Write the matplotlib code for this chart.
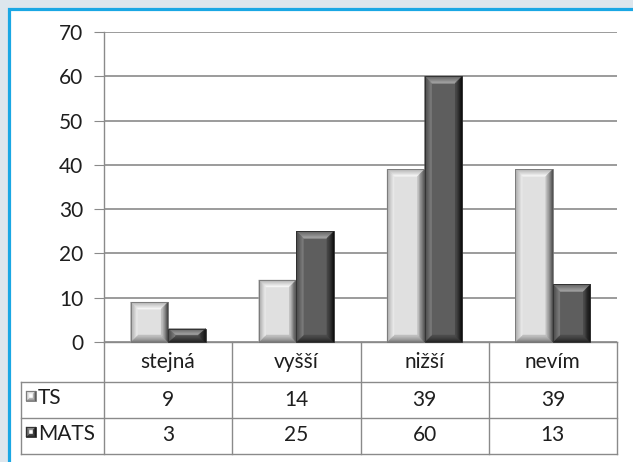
import matplotlib
matplotlib.use("Agg")
import matplotlib.pyplot as plt
import matplotlib.transforms as mtransforms
from matplotlib.patches import Rectangle, Polygon
from matplotlib.lines import Line2D
from matplotlib.colors import to_rgb

# --- data ---
categories = ["stejná", "vyšší", "nižší", "nevím"]
series_names = ["TS", "MATS"]
ts_values = [9, 14, 39, 39]
mats_values = [3, 25, 60, 13]
y_ticks = [0, 10, 20, 30, 40, 50, 60, 70]

W, H = 633, 462
FONT = "Lato"
FS = 15
TXT = "#1e1e1e"
LINE = "#8a8a8a"

# bevel palettes: (outer, inner) colour for each side, plus face
STYLE = {
    "TS": dict(face="#e0e0e0", top=("#a8a8a8", "#fbfbfb"), left=("#a0a0a0", "#efefef"),
               right=("#3c3c3c", "#c8c8c8"), bottom=("#767676", "#c4c4c4"), edge="#747474"),
    "MATS": dict(face="#5e5e5e", top=("#606060", "#a8a8a8"), left=("#444444", "#808080"),
                 right=("#080808", "#4a4a4a"), bottom=("#222222", "#505050"), edge="#2a2a2a"),
}


def fx(x):
    return x / W


def fy(y):
    return 1 - y / H


def mix(c1, c2, t):
    a, b = to_rgb(c1), to_rgb(c2)
    return tuple(a[i] + (b[i] - a[i]) * t for i in range(3))


def bevel(ax, x0, x1, y0, y1, bx, by, st, steps=6, transform=None):
    tr = transform if transform is not None else ax.transData
    by = min(by, (y1 - y0) * 0.45)
    for k in range(steps):
        t0, t1 = k / steps, (k + 1) / steps
        ax0, ax1, ay0, ay1 = x0 + bx * t0, x1 - bx * t0, y0 + by * t0, y1 - by * t0
        bx0, bx1, by0, by1 = x0 + bx * t1, x1 - bx * t1, y0 + by * t1, y1 - by * t1
        tc = (k + 0.5) / steps
        parts = [
            ([(ax0, ay1), (ax1, ay1), (bx1, by1), (bx0, by1)], mix(*st["top"], tc)),
            ([(ax0, ay0), (ax1, ay0), (bx1, by0), (bx0, by0)], mix(*st["bottom"], tc)),
            ([(ax0, ay0), (ax0, ay1), (bx0, by1), (bx0, by0)], mix(*st["left"], tc)),
            ([(ax1, ay0), (ax1, ay1), (bx1, by1), (bx1, by0)], mix(*st["right"], tc)),
        ]
        for pts, c in parts:
            ax.add_patch(Polygon(pts, closed=True, facecolor=c, edgecolor=c, lw=0.3,
                                 transform=tr, zorder=4, clip_on=False))
    ax.add_patch(Rectangle((x0, y0), x1 - x0, y1 - y0, facecolor="none",
                           edgecolor=st["edge"], lw=0.6, transform=tr, zorder=5,
                           clip_on=False))


fig = plt.figure(figsize=(W / 100, H / 100), dpi=100)
fig.patch.set_facecolor("#dde6ed")

# white panel with blue frame
fig.add_artist(Rectangle((fx(8.5), -0.2), 1.5, fy(8.5) + 0.2, transform=fig.transFigure,
                         facecolor="white", edgecolor="#1aa7e4", lw=2.3, zorder=0))

left, right, top, bottom = 104, 617, 32, 342
ax = fig.add_axes([fx(left), fy(bottom), (right - left) / W, (bottom - top) / H])
ax.set_facecolor("none")
ax.set_xlim(-0.5, len(categories) - 0.5)
ax.set_ylim(0, 70)
ax.set_yticks(y_ticks)
ax.set_xticks([])
for s in ["top", "right"]:
    ax.spines[s].set_visible(False)
for s in ["left", "bottom"]:
    ax.spines[s].set_color(LINE)
    ax.spines[s].set_linewidth(1.0)
ax.yaxis.grid(True, color=LINE, lw=1.2)
ax.set_axisbelow(True)
ax.tick_params(axis="y", length=7, color=LINE, pad=8, labelsize=FS)
for lab in ax.get_yticklabels():
    lab.set_fontfamily(FONT)
    lab.set_color(TXT)

bw = 0.293
xs = list(range(len(categories)))
bars_ts = ax.bar([x - bw / 2 for x in xs], ts_values, bw, color=STYLE["TS"]["face"], zorder=3)
bars_mats = ax.bar([x + bw / 2 for x in xs], mats_values, bw, color=STYLE["MATS"]["face"], zorder=3)

px_x = len(categories) / (right - left)
px_y = 70 / (bottom - top)
for bars, name in [(bars_ts, "TS"), (bars_mats, "MATS")]:
    for p in bars:
        x0 = p.get_x()
        x1 = x0 + p.get_width()
        h = p.get_height()
        bevel(ax, x0, x1, 0, h, 7 * px_x, 7 * px_y, STYLE[name])

# --- data table ---
blend = mtransforms.blended_transform_factory(ax.transData, fig.transFigure)
for yl in [382, 418, 454]:
    fig.add_artist(Line2D([fx(21), fx(right)], [fy(yl), fy(yl)], color=LINE, lw=1.0,
                          transform=fig.transFigure))
fig.add_artist(Line2D([fx(21), fx(21)], [fy(382), fy(454)], color=LINE, lw=1.0,
                      transform=fig.transFigure))
for i in range(len(categories) + 1):
    xb = i - 0.5
    fig.add_artist(Line2D([xb, xb], [fy(bottom), fy(454)], color=LINE, lw=1.0, transform=blend))

for i, cat in enumerate(categories):
    fig.text(i, fy(362), cat, transform=blend, ha="center", va="center",
             fontsize=FS, fontfamily=FONT, color=TXT)
    fig.text(i, fy(400), str(ts_values[i]), transform=blend, ha="center", va="center",
             fontsize=FS, fontfamily=FONT, color=TXT)
    fig.text(i, fy(435), str(mats_values[i]), transform=blend, ha="center", va="center",
             fontsize=FS, fontfamily=FONT, color=TXT)

# legend keys in the table
for name, yc, yt in zip(series_names, [396, 432], [398, 434]):
    bevel(ax, fx(26), fx(36), fy(yc + 5), fy(yc - 5), fx(3), 3 / H, STYLE[name],
          steps=3, transform=fig.transFigure)
    fig.text(fx(38), fy(yt), name, ha="left", va="center", fontsize=FS,
             fontfamily=FONT, color=TXT)

fig.savefig("out.png", dpi=100, facecolor=fig.get_facecolor())
